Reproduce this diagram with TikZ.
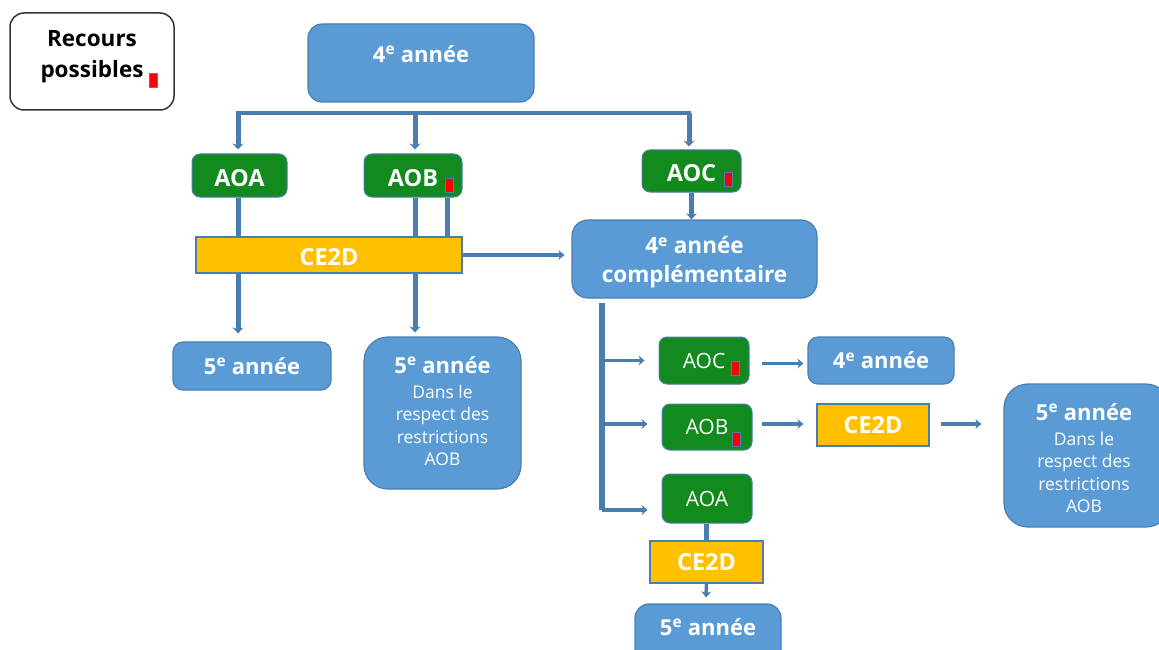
\documentclass[tikz,border=0pt]{standalone}
\usepackage{fontspec}
\setmainfont{Open Sans}
\usetikzlibrary{positioning}
\usetikzlibrary{calc}
\usetikzlibrary{arrows.meta}
\definecolor{boxblue}{HTML}{5B9BD5}
\definecolor{boxedge}{HTML}{4A7EB0}
\definecolor{aogreen}{HTML}{138A1E}
\definecolor{ceyellow}{HTML}{FFC000}
\tikzset{
    % Blue boxes for the school years
    year box/.style={
        draw=boxedge, line width=1.2pt, fill=boxblue, rounded corners=10pt,
        text=white, font=\fontsize{22}{24}\selectfont\bfseries,
        align=center, inner sep=0pt},
%
    % Decisions, in green
    decision/.style={
        draw=boxedge, line width=1pt, fill=aogreen, rounded corners=8pt,
        text=white, font=\fontsize{23.5}{24}\selectfont\bfseries, inner sep=0pt},
    % The same with the lighter text of the lower branch
    small decision/.style={decision, font=\fontsize{21}{24}\selectfont},
%
    % The commission, in yellow
    commission/.style={
        draw=boxedge, line width=1.2pt, fill=ceyellow,
        text=white, font=\fontsize{23.5}{24}\selectfont\bfseries, inner sep=0pt},
%
    % Small red mark for a possible appeal
    appeal/.style={
        draw=boxedge, line width=.4pt, fill=red,
        minimum width=8pt, minimum height=14pt, inner sep=0pt},
%
    % Text laid over a box
    box text/.style={text=white, align=center,
        font=\fontsize{22}{24}\selectfont\bfseries},
%
    % Connectors
    bus/.style={draw=boxedge, line width=3.5pt},
    link/.style={draw=boxedge, line width=5pt},
    arrow link/.style={link, -{Stealth[length=6pt,width=11pt]}},
    thin arrow/.style={draw=boxedge, line width=3.5pt, -{Stealth[length=6pt,width=10pt]}}}
\newcommand{\yeartext}{4\textsuperscript{e} année}
\newcommand{\nexttext}{5\textsuperscript{e} année}
\newcommand{\fineprint}{\fontsize{17.5}{22}\selectfont\mdseries}
\newcommand{\lowered}[2]{\raisebox{-#1}[\height][\depth]{#2}}

\begin{document}
\begin{tikzpicture}[x=1pt, y=-1pt]

\useasboundingbox (0,0) rectangle (1159,650);

\node (recours) [draw=black!80, line width=1.5pt, rounded corners=14pt,
    minimum width=164pt, minimum height=97pt] at (92,61.5) {};
\node (recourstext) [font=\fontsize{22.5}{31}\selectfont\bfseries, align=center]
    at (92,57) {Recours\\possibles};
\node (recoursmark) [appeal] at (153,80) {};

\node (top) [year box, rounded corners=14pt, minimum width=226pt, minimum height=78pt] at (421,63) {};
\node (toptext) [box text] at (421,54) {\yeartext};

\node (aoa) [decision, minimum width=95pt, minimum height=43pt] at (239.5,175.5) {\lowered{3pt}{AOA}};
\node (aob) [decision, minimum width=98pt, minimum height=43pt] at (413,175.5) {\lowered{3pt}{AOB}\hspace{14pt}};
\node (aobmark) [appeal] at (449,185) {};
\node (aoc) [decision, minimum width=99pt, minimum height=42pt] at (691.5,171) {\lowered{2pt}{AOC}\hspace{10pt}};
\node (aocmark) [appeal] at (728,179) {};

\node (ce2dA) [commission, minimum width=266pt, minimum height=36pt] at (329,255) {\lowered{2pt}{CE2D}};
\node (compl) [year box, rounded corners=16pt, minimum width=245pt, minimum height=78pt,
    font=\fontsize{22.5}{29}\selectfont\bfseries] at (694.5,259)
    {\lowered{3.5pt}{\yeartext}\\\lowered{3.5pt}{complémentaire}};

\node (fiveA) [year box, minimum width=158pt, minimum height=48pt] at (252,366) {\nexttext};
\node (fiveB) [year box, rounded corners=24pt, minimum width=157pt, minimum height=152pt] at (442.5,413) {};
\node (fiveBtext) [box text] at (442.5,411)
    {\nexttext\\[1pt]\fineprint Dans le\\[-1.5pt]\fineprint respect des\\[-1.5pt]\fineprint restrictions\\[-1.5pt]\fineprint AOB};

\node (aocB) [small decision, minimum width=90pt, minimum height=47pt] at (704,360.5) {AOC\hspace{12pt}};
\node (aocBmark) [appeal] at (735,368) {};
\node (fourB) [year box, minimum width=146pt, minimum height=47pt] at (881,360.5) {\yeartext};
\node (aobB) [small decision, minimum width=90pt, minimum height=46pt] at (707,427) {AOB\hspace{12pt}};
\node (aobBmark) [appeal] at (736,439) {};
\node (ce2dB) [commission, minimum width=112pt, minimum height=42pt] at (873,425) {CE2D};
\node (fiveC) [year box, rounded corners=24pt, minimum width=166pt, minimum height=143pt] at (1087,455.5) {};
\node (fiveCtext) [box text] at (1084,458)
    {\nexttext\\[1pt]\fineprint Dans le\\[-1.5pt]\fineprint respect des\\[-1.5pt]\fineprint restrictions\\[-1.5pt]\fineprint AOB};
\node (aoaB) [small decision, minimum width=90pt, minimum height=49pt] at (707,498.5) {AOA};
\node (ce2dC) [commission, minimum width=113pt, minimum height=42pt] at (706.5,562) {CE2D};
\node (fiveD) [year box, rounded corners=14pt, minimum width=146pt, minimum height=72pt] at (708,640) {};
\node (fiveDtext) [box text] at (708,627) {\nexttext};

% branches below the first year box
\coordinate (busA) at (238,113);
\coordinate (busB) at (415,113);
\coordinate (busC) at (689,113);
\draw [bus, line cap=rect] (busA) -- (busC);
\draw [arrow link] (busA) -- ($(aoa.north -| busA) + (0,-4)$);
\draw [arrow link] (busB) -- ($(aob.north -| busB) + (0,-4)$);
\draw [arrow link] (busC) -- ($(aoc.north -| busC) + (0,-3)$);
\draw [arrow link] (aoc.south) -- (compl.north -| aoc.south);

% through the commission
\coordinate (aobside) at (447,0);
\draw [link] (aoa.south -| busA) -- (ce2dA.north -| busA);
\draw [link] (aob.south -| busB) -- (ce2dA.north -| busB);
\draw [link] (aob.south -| aobside) -- (ce2dA.north -| aobside);
\draw [arrow link] (ce2dA.south -| busA) -- ($(fiveA.north -| busA) + (0,-8)$);
\draw [arrow link] (ce2dA.south -| busB) -- ($(fiveB.north -| busB) + (0,-4)$);
\draw [thin arrow] (ce2dA.east) -- ($(compl.west) + (-7,-4)$ |- ce2dA.east);

% branches of the complementary year
\coordinate (trunk) at (602,510);
\draw [draw=boxedge, line width=6pt] ($(compl.south -| trunk) + (0,4)$) -- (trunk);
\draw [thin arrow] (trunk |- aocB) -- ($(aocB.west) + (-14,0)$);
\draw [thin arrow] ($(trunk |- aobB) + (0,-3)$) -- ($(aobB.west) + (-14,-3)$);
\draw [thin arrow] (trunk) -- ($(trunk -| aoaB.west) + (-14,0)$);
\draw [thin arrow] ($(aocB.east) + (12,3)$) -- ($(fourB.west) + (-4,3)$);
\draw [thin arrow] ($(aobB.east) + (9,-3)$) -- ($(ce2dB.west) + (-13,-1)$);
\draw [thin arrow] ($(ce2dB.east) + (11,-1)$) -- ($(fiveC.west |- ce2dB.east) + (-22,-1)$);
\draw [link] (aoaB.south -| ce2dC) -- (ce2dC.north);
\draw [thin arrow] (ce2dC.south) -- ($(fiveD.north) + (-2,-6)$);

\end{tikzpicture}
\end{document}
